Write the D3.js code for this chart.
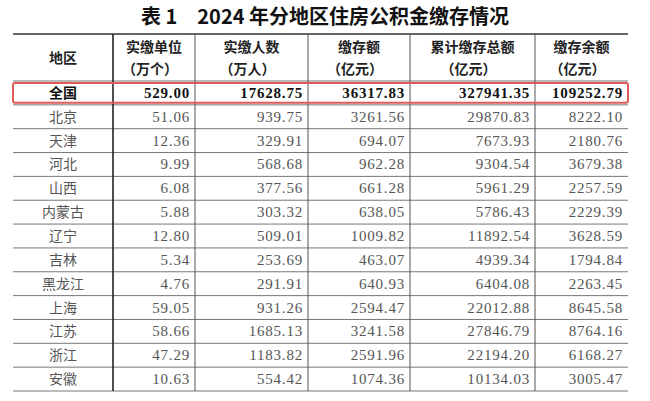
<!DOCTYPE html>
<html><head><meta charset="utf-8">
<script src="https://cdn.jsdelivr.net/npm/d3@7"></script>
<style>body{margin:0;background:#fff}</style>
</head><body>
<script>
// table data
var title = "表 1　2024 年分地区住房公积金缴存情况";
var headers = [["地区",""],["实缴单位","（万个）"],["实缴人数","（万人）"],["缴存额","（亿元）"],["累计缴存总额","（亿元）"],["缴存余额","（亿元）"]];
var regions = ["全国","北京","天津","河北","山西","内蒙古","辽宁","吉林","黑龙江","上海","江苏","浙江","安徽"];
var units = [529.00,51.06,12.36,9.99,6.08,5.88,12.80,5.34,4.76,59.05,58.66,47.29,10.63];
var people = [17628.75,939.75,329.91,568.68,377.56,303.32,509.01,253.69,291.91,931.26,1685.13,1183.82,554.42];
var deposit = [36317.83,3261.56,694.07,962.28,661.28,638.05,1009.82,463.07,640.93,2594.47,3241.58,2591.96,1074.36];
var cumulative = [327941.35,29870.83,7673.93,9304.54,5961.29,5786.43,11892.54,4939.34,6404.08,22012.88,27846.79,22194.20,10134.03];
var balance = [109252.79,8222.10,2180.76,3679.38,2257.59,2229.39,3628.59,1794.84,2263.45,8645.58,8764.16,6168.27,3005.47];

var W = 650, H = 401;
var colEdges = [13,113,195,308,410,535,628];
var series = [units, people, deposit, cumulative, balance];

var svg = d3.select("body").append("svg").attr("width", W).attr("height", H);

svg.append("text").attr("x", 325).attr("y", 24).attr("text-anchor", "middle")
  .style("font-family", "Noto Sans CJK SC").style("font-weight", "bold").style("font-size", "20px")
  .attr("fill", "#111").text(title);

var headTop = 34, headBot = 81;
var y = d3.scaleBand().domain(d3.range(regions.length)).range([headBot, 391]);

var cjk = "Noto Sans CJK SC", num = "Liberation Serif";

// horizontal lines
svg.append("line").attr("x1", colEdges[0]).attr("x2", colEdges[6]).attr("y1", headTop).attr("y2", headTop)
  .attr("stroke", "#333").attr("stroke-width", 1.5);
svg.selectAll(".hl").data(d3.range(regions.length + 1)).enter().append("line")
  .attr("x1", colEdges[0]).attr("x2", colEdges[6])
  .attr("y1", function(i) { return i < regions.length ? y(i) : y.range()[1]; })
  .attr("y2", function(i) { return i < regions.length ? y(i) : y.range()[1]; })
  .attr("stroke", "#777").attr("stroke-width", 1);

// vertical lines
svg.selectAll(".vl").data(colEdges.slice(1, 6)).enter().append("line")
  .attr("x1", function(d) { return d; }).attr("x2", function(d) { return d; })
  .attr("y1", headTop).attr("y2", y.range()[1])
  .attr("stroke", function(d, i) { return i == 0 ? "#222" : "#555"; })
  .attr("stroke-width", function(d, i) { return i == 0 ? 1.6 : 1; });

// headers
headers.forEach(function(h, c) {
  var cx = (colEdges[c] + colEdges[c + 1]) / 2;
  if (h[1] == "") {
    svg.append("text").attr("x", cx).attr("y", 63).attr("text-anchor", "middle")
      .style("font-family", cjk).style("font-weight", "bold").style("font-size", "14px").attr("fill", "#222").text(h[0]);
  } else {
    svg.append("text").attr("x", cx).attr("y", 52).attr("text-anchor", "middle")
      .style("font-family", cjk).style("font-weight", "bold").style("font-size", "14px").attr("fill", "#222").text(h[0]);
    svg.append("text").attr("x", cx - 4).attr("y", 74).attr("text-anchor", "middle")
      .style("font-family", cjk).style("font-weight", "bold").style("font-size", "14px").attr("fill", "#222").text(h[1]);
  }
});

// rows
regions.forEach(function(r, i) {
  var bold = i == 0;
  var cy = y(i) + y.bandwidth() / 2 + 5;
  var col = bold ? "#111" : "#555";
  svg.append("text").attr("x", (colEdges[0] + colEdges[1]) / 2).attr("y", cy).attr("text-anchor", "middle")
    .style("font-family", cjk).style("font-weight", bold ? "bold" : "normal").style("font-size", "14px")
    .attr("fill", col).text(r);
  series.forEach(function(s, c) {
    svg.append("text").attr("x", colEdges[c + 2] - 5).attr("y", cy).attr("text-anchor", "end")
      .style("font-family", num).style("font-weight", bold ? "bold" : "normal").style("font-size", "15px")
      .style("letter-spacing", "0.8px").attr("fill", col).text(d3.format(".2f")(s[i]));
  });
});

// red highlight box
svg.append("rect").attr("x", 13).attr("y", y(0) + 2).attr("width", 615).attr("height", y.bandwidth() - 4)
  .attr("fill", "none").attr("stroke", "#e05a5a").attr("stroke-width", 2).attr("rx", 2);
</script>
</body></html>
